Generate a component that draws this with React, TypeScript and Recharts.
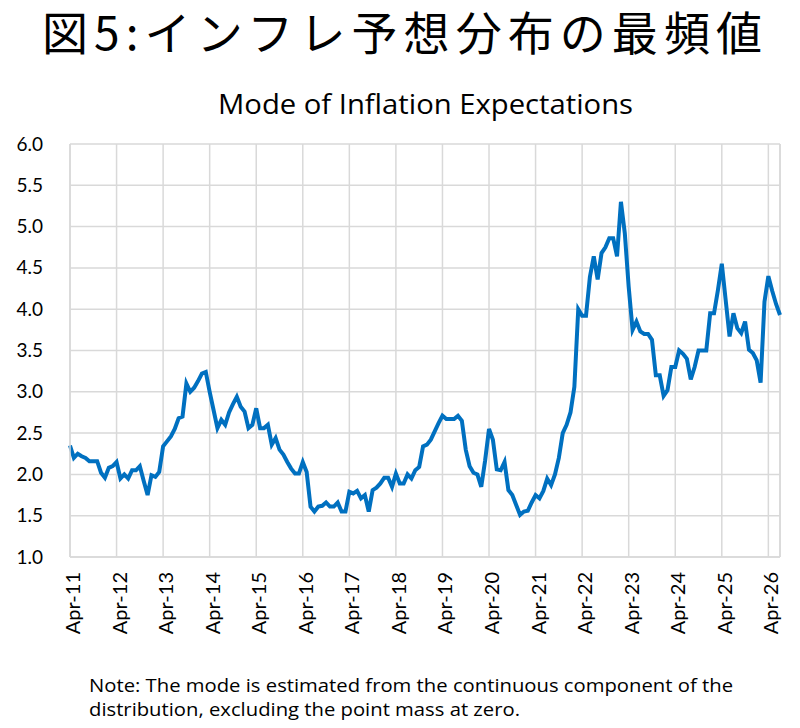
import React from 'react';
import { LineChart, Line, XAxis, YAxis, CartesianGrid, ReferenceLine } from 'recharts';

// Monthly mode of inflation expectations, Apr-11 .. Jul-26
const modeValues: number[] = [
  // Apr-11 .. Mar-12
  2.35, 2.2, 2.25, 2.22, 2.2, 2.16, 2.16, 2.16, 2.02, 1.96, 2.08, 2.1,
  // Apr-12 .. Mar-13
  2.15, 1.95, 2.0, 1.95, 2.05, 2.05, 2.1, 1.92, 1.75, 1.99, 1.97, 2.03,
  // Apr-13 .. Mar-14
  2.34, 2.4, 2.46, 2.55, 2.68, 2.7, 3.1, 3.0, 3.05, 3.13, 3.22, 3.24,
  // Apr-14 .. Mar-15
  3.0, 2.78, 2.56, 2.66, 2.6, 2.75, 2.85, 2.94, 2.82, 2.76, 2.56, 2.6,
  // Apr-15 .. Mar-16
  2.8, 2.56, 2.56, 2.6, 2.36, 2.44, 2.3, 2.24, 2.15, 2.07, 2.01, 2.01,
  // Apr-16 .. Mar-17
  2.15, 2.03, 1.61, 1.55, 1.61, 1.62, 1.66, 1.61, 1.61, 1.66, 1.55, 1.55,
  // Apr-17 .. Mar-18
  1.79, 1.77, 1.8, 1.71, 1.75, 1.55, 1.81, 1.84, 1.89, 1.96, 1.96, 1.85,
  // Apr-18 .. Mar-19
  2.01, 1.89, 1.89, 2.0, 1.95, 2.05, 2.09, 2.34, 2.36, 2.42, 2.52, 2.62,
  // Apr-19 .. Mar-20
  2.71, 2.67, 2.67, 2.67, 2.71, 2.65, 2.3, 2.1, 2.02, 2.0, 1.85, 2.17,
  // Apr-20 .. Mar-21
  2.55, 2.42, 2.06, 2.05, 2.15, 1.81, 1.75, 1.63, 1.51, 1.55, 1.56, 1.66,
  // Apr-21 .. Mar-22
  1.75, 1.71, 1.8, 1.95, 1.87, 2.0, 2.2, 2.5, 2.6, 2.75, 3.06, 4.0,
  // Apr-22 .. Mar-23
  3.92, 3.92, 4.39, 4.64, 4.36, 4.68, 4.75, 4.86, 4.86, 4.64, 5.3, 4.92,
  // Apr-23 .. Mar-24
  4.27, 3.75, 3.85, 3.73, 3.7, 3.7, 3.63, 3.2, 3.2, 2.95, 3.02, 3.3,
  // Apr-24 .. Mar-25
  3.3, 3.5, 3.46, 3.4, 3.15, 3.3, 3.5, 3.5, 3.5, 3.95, 3.95, 4.23,
  // Apr-25 .. Mar-26
  4.55, 4.11, 3.67, 3.95, 3.77, 3.71, 3.85, 3.51, 3.47, 3.38, 3.11, 4.09,
  // Apr-26 .. Jul-26
  4.4, 4.22, 4.06, 3.93,
];

const monthNames = ['Jan', 'Feb', 'Mar', 'Apr', 'May', 'Jun', 'Jul', 'Aug', 'Sep', 'Oct', 'Nov', 'Dec'];

const yearTicks = [
  'Apr-11', 'Apr-12', 'Apr-13', 'Apr-14', 'Apr-15', 'Apr-16', 'Apr-17', 'Apr-18',
  'Apr-19', 'Apr-20', 'Apr-21', 'Apr-22', 'Apr-23', 'Apr-24', 'Apr-25', 'Apr-26',
];

const valueTicks = [1.0, 1.5, 2.0, 2.5, 3.0, 3.5, 4.0, 4.5, 5.0, 5.5, 6.0];

const data = modeValues.map((v, i) => {
  const m = 3 + i; // April 2011 is month index 3 of 2011
  const label = `${monthNames[m % 12]}-${String(11 + Math.floor(m / 12)).padStart(2, '0')}`;
  return { month: label, mode: v };
});

const GRID = '#d9d9d9';
const BLUE = '#0070c0';
const FONT = 'Lato, "Open Sans", sans-serif';
const WIDE_FONT = '"Open Sans", Lato, sans-serif';

const PLOT_LEFT = 70;
const PLOT_TOP = 144;
const PLOT_BOTTOM = 557;

interface TickProps {
  x?: number;
  y?: number;
  payload?: { value: string | number; coordinate?: number };
}

const MonthTick = ({ x, payload }: TickProps) => {
  if (x == null || !payload) return null;
  return (
    <text
      transform={`translate(${x + 10},${PLOT_BOTTOM + 15}) rotate(-90)`}
      textAnchor="end"
      fill="#000"
      fontSize={20}
      fontFamily={FONT}
    >
      {payload.value}
    </text>
  );
};

const ValueTick = ({ y, payload }: TickProps) => {
  if (y == null || !payload) return null;
  return (
    <text x={PLOT_LEFT - 27} y={y} dy={6.5} textAnchor="end" fill="#000" fontSize={19} fontFamily={FONT}>
      {Number(payload.value).toFixed(1)}
    </text>
  );
};

export default function App() {
  return (
    <div style={{ position: 'absolute', left: 0, top: 0, width: 800, height: 728, background: '#fff' }}>
      <svg width={800} height={130} style={{ position: 'absolute', left: 0, top: 0 }}>
        <text
          x={42}
          y={50}
          fontSize={46}
          fontFamily='"Noto Sans CJK JP", sans-serif'
          fill="#000"
          textLength={720}
          lengthAdjust="spacing"
        >
          図5:インフレ予想分布の最頻値
        </text>
        <text
          x={218}
          y={114}
          fontSize={27}
          fontFamily={WIDE_FONT}
          fill="#000"
          textLength={415}
          lengthAdjust="spacingAndGlyphs"
        >
          Mode of Inflation Expectations
        </text>
      </svg>

      <div style={{ position: 'absolute', left: 0, top: 0 }}>
        <LineChart
          width={800}
          height={728}
          data={data}
          margin={{ top: PLOT_TOP, right: 20, bottom: 728 - PLOT_BOTTOM - 80, left: PLOT_LEFT - 60 }}
        >
          <CartesianGrid stroke={GRID} strokeWidth={1.5} vertical horizontal />
          <XAxis
            dataKey="month"
            ticks={yearTicks}
            interval={0}
            height={80}
            tickLine={false}
            axisLine={{ stroke: GRID, strokeWidth: 1.5 }}
            tick={<MonthTick />}
          />
          <YAxis
            domain={[1, 6]}
            ticks={valueTicks}
            width={60}
            tickLine={false}
            axisLine={{ stroke: GRID, strokeWidth: 1.5 }}
            tick={<ValueTick />}
          />
          <ReferenceLine x={data[data.length - 1].month} stroke={GRID} strokeWidth={1.5} />
          <Line
            type="linear"
            dataKey="mode"
            stroke={BLUE}
            strokeWidth={4}
            dot={false}
            isAnimationActive={false}
          />
        </LineChart>
      </div>

      <svg width={800} height={100} style={{ position: 'absolute', left: 0, top: 650 }}>
        <text x={89} y={42} fontSize={19} fontFamily={WIDE_FONT} fill="#000" textLength={644} lengthAdjust="spacingAndGlyphs">
          Note: The mode is estimated from the continuous component of the
        </text>
        <text x={89} y={66} fontSize={19} fontFamily={WIDE_FONT} fill="#000" textLength={431} lengthAdjust="spacingAndGlyphs">
          distribution, excluding the point mass at zero.
        </text>
      </svg>
    </div>
  );
}
